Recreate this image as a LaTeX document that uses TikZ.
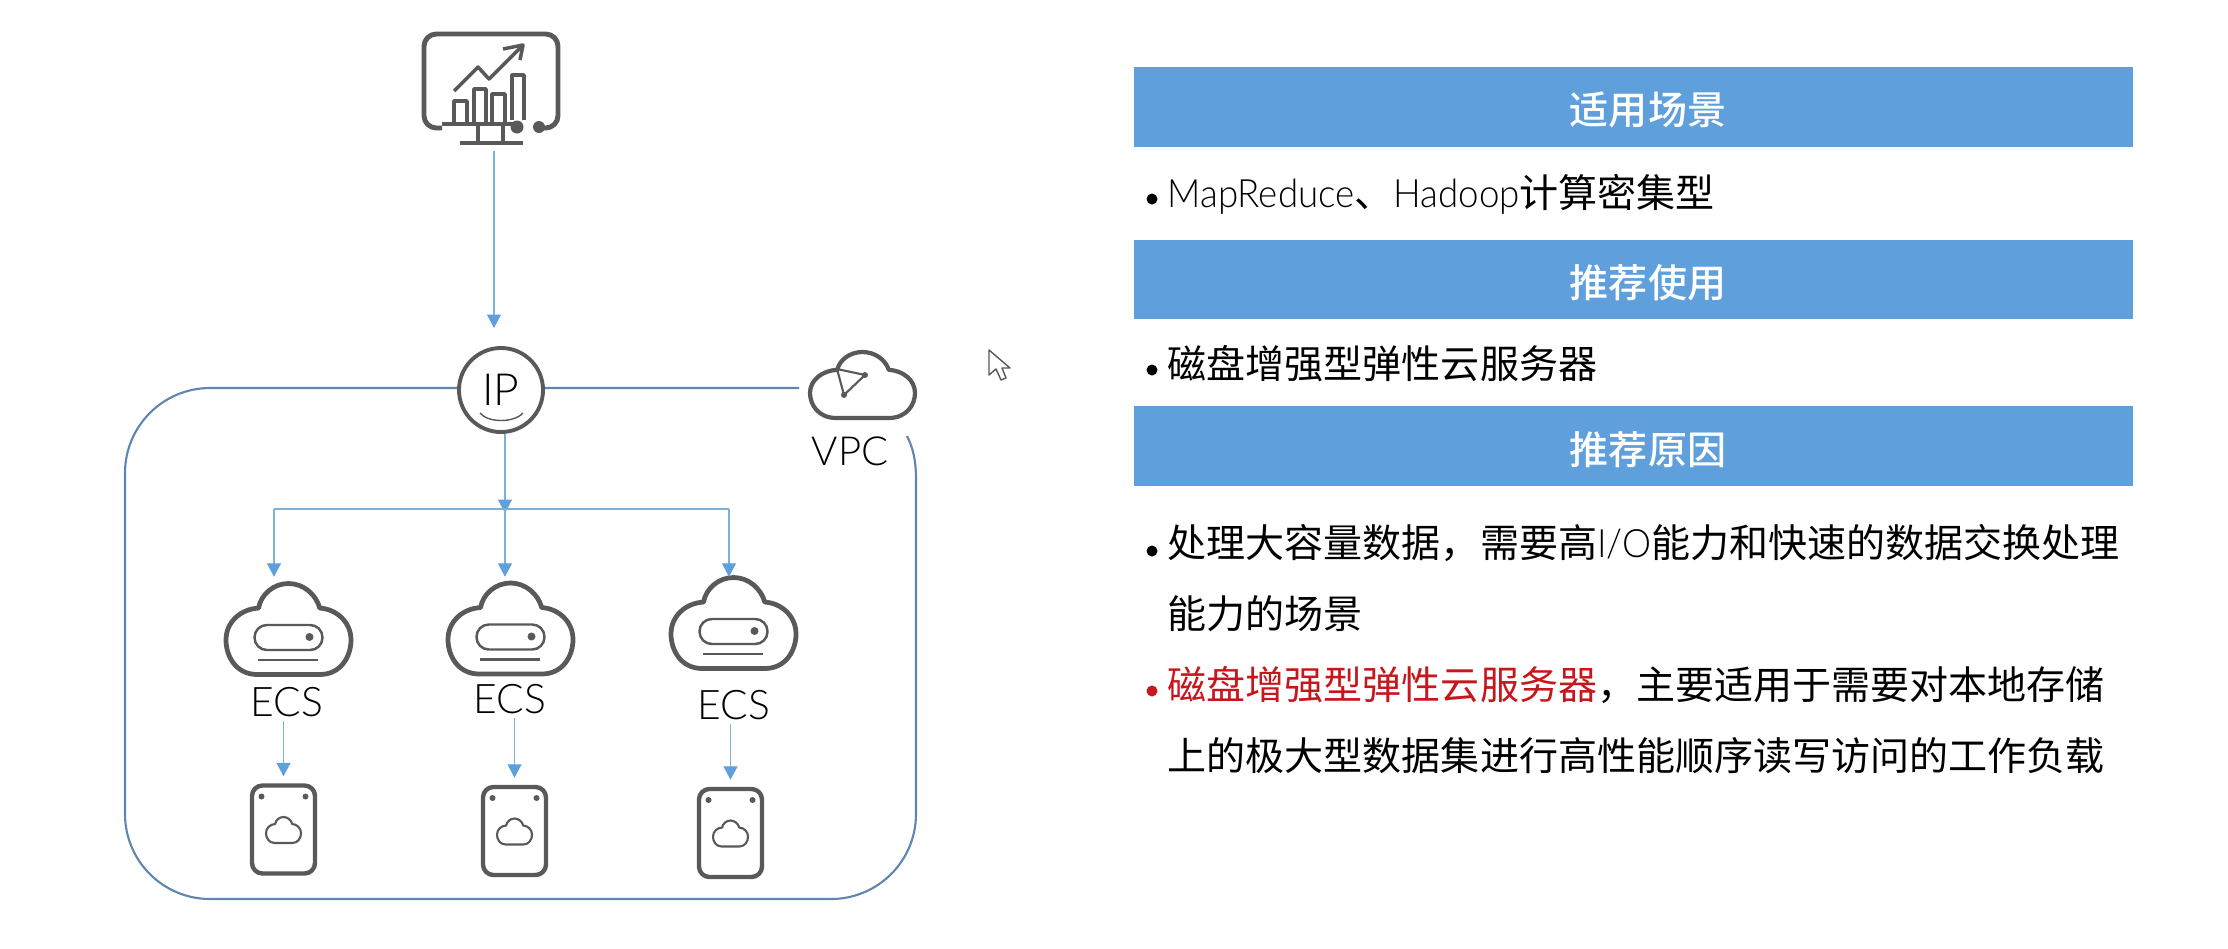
\documentclass[tikz,border=0pt]{standalone}
\usepackage{fontspec}
\setmainfont{Noto Sans CJK SC}
\newfontfamily\medfont{Noto Sans CJK SC Medium}
\newfontfamily\thinfont{Lato Light}
\newfontfamily\thinbody[FakeStretch=0.94]{Lato Light}
\usetikzlibrary{arrows.meta}
\definecolor{barblue}{HTML}{5FA0DC}
\definecolor{iconline}{HTML}{595959}
\definecolor{wireblue}{HTML}{7FB0D8}
\definecolor{frameblue}{HTML}{5E86B0}
\definecolor{redtext}{HTML}{C8161D}
\def\bodyfont{\fontsize{11.1}{20.4}\selectfont}
\def\cloudwidth{1.2pt}

\tikzset{
	cloudicon/.pic={
		\draw[icon,line width=\cloudwidth] (-25,50) .. controls (-42,50) and (-50,30) .. (-50,12)
			.. controls (-50,-8) and (-38,-22) .. (-24,-23)
			.. controls (-22,-38) and (-12,-50) .. (0,-50)
			.. controls (12,-50) and (22,-38) .. (25,-23)
			.. controls (38,-22) and (50,-8) .. (50,12)
			.. controls (50,30) and (42,50) .. (25,50) -- cycle;
	},
	srvinner/.pic={
		\draw[iconthin,rounded corners=3.5pt] (-34,-4) rectangle (34,21);
		\fill[iconline] (21,8) circle (4);
		\draw[iconthin] (-31,31) -- (29,31);
	}
}

\begin{document}
\begin{tikzpicture}[x=0.01cm,y=-0.01cm]
	\tikzstyle{icon} = [draw=iconline,line width=1.1pt,line join=round]
	\tikzstyle{iconthin} = [draw=iconline,line width=0.7pt]
	\tikzstyle{wire} = [draw=wireblue,line width=0.4pt,-{Triangle[length=1.35mm,width=1.4mm,color=barblue]}]
	\tikzstyle{bus} = [draw=wireblue,line width=0.4pt]
	\tikzstyle{frame} = [draw=frameblue,line width=0.6pt]
	\tikzstyle{headbar} = [rectangle,fill=barblue,minimum width=9.99cm,inner sep=0pt]
	\tikzstyle{headtext} = [text=white,font=\medfont\bodyfont,inner sep=0pt]
	\tikzstyle{bodytext} = [anchor=west,align=left,font=\bodyfont,inner sep=0pt]
	\tikzstyle{dotmark} = [circle,fill=black,minimum size=0.11cm,inner sep=0pt]
	\tikzstyle{iconbox} = [rectangle,inner sep=0pt]
	\tikzstyle{disk} = [icon,line width=1.25pt,rectangle,rounded corners=3pt,minimum width=0.63cm,minimum height=0.88cm,inner sep=0pt]
	\tikzstyle{ecslabel} = [font=\thinfont\fontsize{11.6}{14}\selectfont,inner sep=1pt]

	\useasboundingbox (0,0) rectangle (2228,948);

	%%% DRAW THE FRAME
	\draw[frame] (907,436) .. controls (913,448) and (916,460) .. (916,480)
		[rounded corners=0.85cm] -- (916,899) -- (125,899) -- (125,388) -- (799,388);

	%%% DRAW THE NODES
	\node[iconbox,minimum width=1.28cm,minimum height=1.16cm] (mon) at (494,92) {};
	\node[circle,draw=iconline,line width=1.1pt,fill=white,minimum size=0.84cm,inner sep=0pt,font=\thinfont\fontsize{12.6}{14}\selectfont] (ip) at (501,390) {IP};
	\node[iconbox,minimum width=1.05cm,minimum height=0.66cm] (vpc) at (862.5,385) {};
	\node[font=\thinfont\fontsize{11.4}{14}\selectfont,inner sep=0pt] (vpclabel) at (850,451) {VPC};

	\foreach \name / \x / \y in {1/288.5/629,2/510.5/628.5,3/733.5/623}
		\node[iconbox,minimum width=1.25cm,minimum height=0.91cm] (srv-\name) at (\x,\y) {};
	\foreach \name / \x / \y in {1/287/702,2/510/699,3/734/705}
		\node[ecslabel] (ecs-\name) at (\x,\y) {ECS};
	\foreach \name / \x / \y in {1/283.5/829.5,2/514.5/831,3/730.5/833}
		\node[disk] (disk-\name) at (\x,\y) {};

	\coordinate (ip-in) at (494,328);
	\coordinate (join) at (505,513);
	\coordinate (bus-1) at (274,509);
	\coordinate (bus-2) at (505,509);
	\coordinate (bus-3) at (729,509);

	%%% DRAW THE ICONS
	% monitor
	\draw[icon,line width=1.4pt,rounded corners=3.5pt] (442,128) -- (424,128) -- (424,34) -- (558,34) -- (558,128) -- (539,128);
	\draw[icon,line width=1.2pt] (442,124) -- (517,124);
	\draw[icon,line width=1.2pt] (478,126) -- (478,143) (503,126) -- (503,143) (460,143) -- (523,143);
	\draw[icon,line width=1pt] (454,124) |- (467,101) -- (467,124);
	\draw[icon,line width=1pt] (474,124) |- (486,89) -- (486,124);
	\draw[icon,line width=1pt] (492,124) |- (505,94) -- (505,124);
	\draw[icon,line width=1pt] (512,120) |- (524,75) -- (524,120);
	\draw[icon,line width=1pt] (454,91) -- (478,67) -- (489,79) -- (523,45);
	\draw[icon,line width=1pt] (503,49) -- (523,45) -- (520,60);
	\fill[iconline] (517,127) circle (6.5) (539,127) circle (6);
	% vpc cloud
	\pic[xscale=1.05,yscale=0.66] at (vpc) {cloudicon};
	\draw[iconthin,line width=0.6pt] (837,369) -- (865,375) -- (844,395) -- cycle;
	\fill[iconline] (865,375) circle (3) (844,395) circle (3);
	% ip smile
	\draw[iconthin,line width=0.4pt] (480,413) .. controls (488,423) and (514,423) .. (523,413);
	% servers
	\def\cloudwidth{1.35pt}
	\foreach \name in {1,2,3}{
		\pic[xscale=1.25,yscale=0.91] at (srv-\name) {cloudicon};
		\pic at (srv-\name) {srvinner};
	}
	% disks
	\def\cloudwidth{0.6pt}
	\foreach \name in {1,2,3}{
		\begin{scope}[shift={(disk-\name)}]
			\fill[iconline] (-22,-33) circle (3) (22,-33) circle (3);
			\pic[xscale=0.35,yscale=0.26] at (0,0.5) {cloudicon};
		\end{scope}
	}

	%%% DRAW THE PATHS
	\draw[wire] (mon.south) -- (ip-in);
	\draw[wire] (ip.south -| join) -- (join);
	\draw[bus] (bus-1) -- (bus-3);
	\draw[wire] (bus-1) -- (bus-1 |- srv-3.north);
	\draw[wire] (bus-2) -- (bus-2 |- srv-3.north);
	\draw[wire] (bus-3) -- (bus-3 |- srv-3.north);
	\foreach \name in {1,2,3}
		\draw[wire] (disk-\name.north |- ecs-\name.south) -- ([yshift=2pt]disk-\name.north);

	%%% DRAW THE TEXT PANEL
	\foreach \name / \y / \h / \ty / \txt in {1/107/80/110/适用场景,2/279.5/79/283/推荐使用,3/446/80/450/推荐原因}{
		\node[headbar,minimum height=\h*0.01cm] (head-\name) at (1633.5,\y) {};
		\node[headtext] (title-\name) at (1648,\ty) {\txt};
	}
	\node[bodytext] (body-1) at (1167,194) {{\thinbody MapReduce}、{\thinbody Hadoop}计算密集型};
	\node[bodytext] (body-2) at (1167,364) {磁盘增强型弹性云服务器};
	\node[bodytext] (body-3) at (1167,578) {处理大容量数据，需要高{\thinbody I/O}能力和快速的数据交换处理\\能力的场景};
	\node[bodytext] (body-4) at (1167,720) {\textcolor{redtext}{磁盘增强型弹性云服务器}，主要适用于需要对本地存储\\上的极大型数据集进行高性能顺序读写访问的工作负载};
	\foreach \name / \y in {1/199,2/370,3/551}
		\node[dotmark] (mark-\name) at (1152,\y) {};
	\node[dotmark,fill=redtext] (mark-4) at (1152,691) {};

	%%% DRAW THE CURSOR
	\draw[draw=iconline,fill=white,line width=0.4pt,line join=round] (989,350) -- (989,375) -- (996,369) -- (1001,380) -- (1006,378) -- (1002,368) -- (1010,368) -- cycle;
\end{tikzpicture}
\end{document}
